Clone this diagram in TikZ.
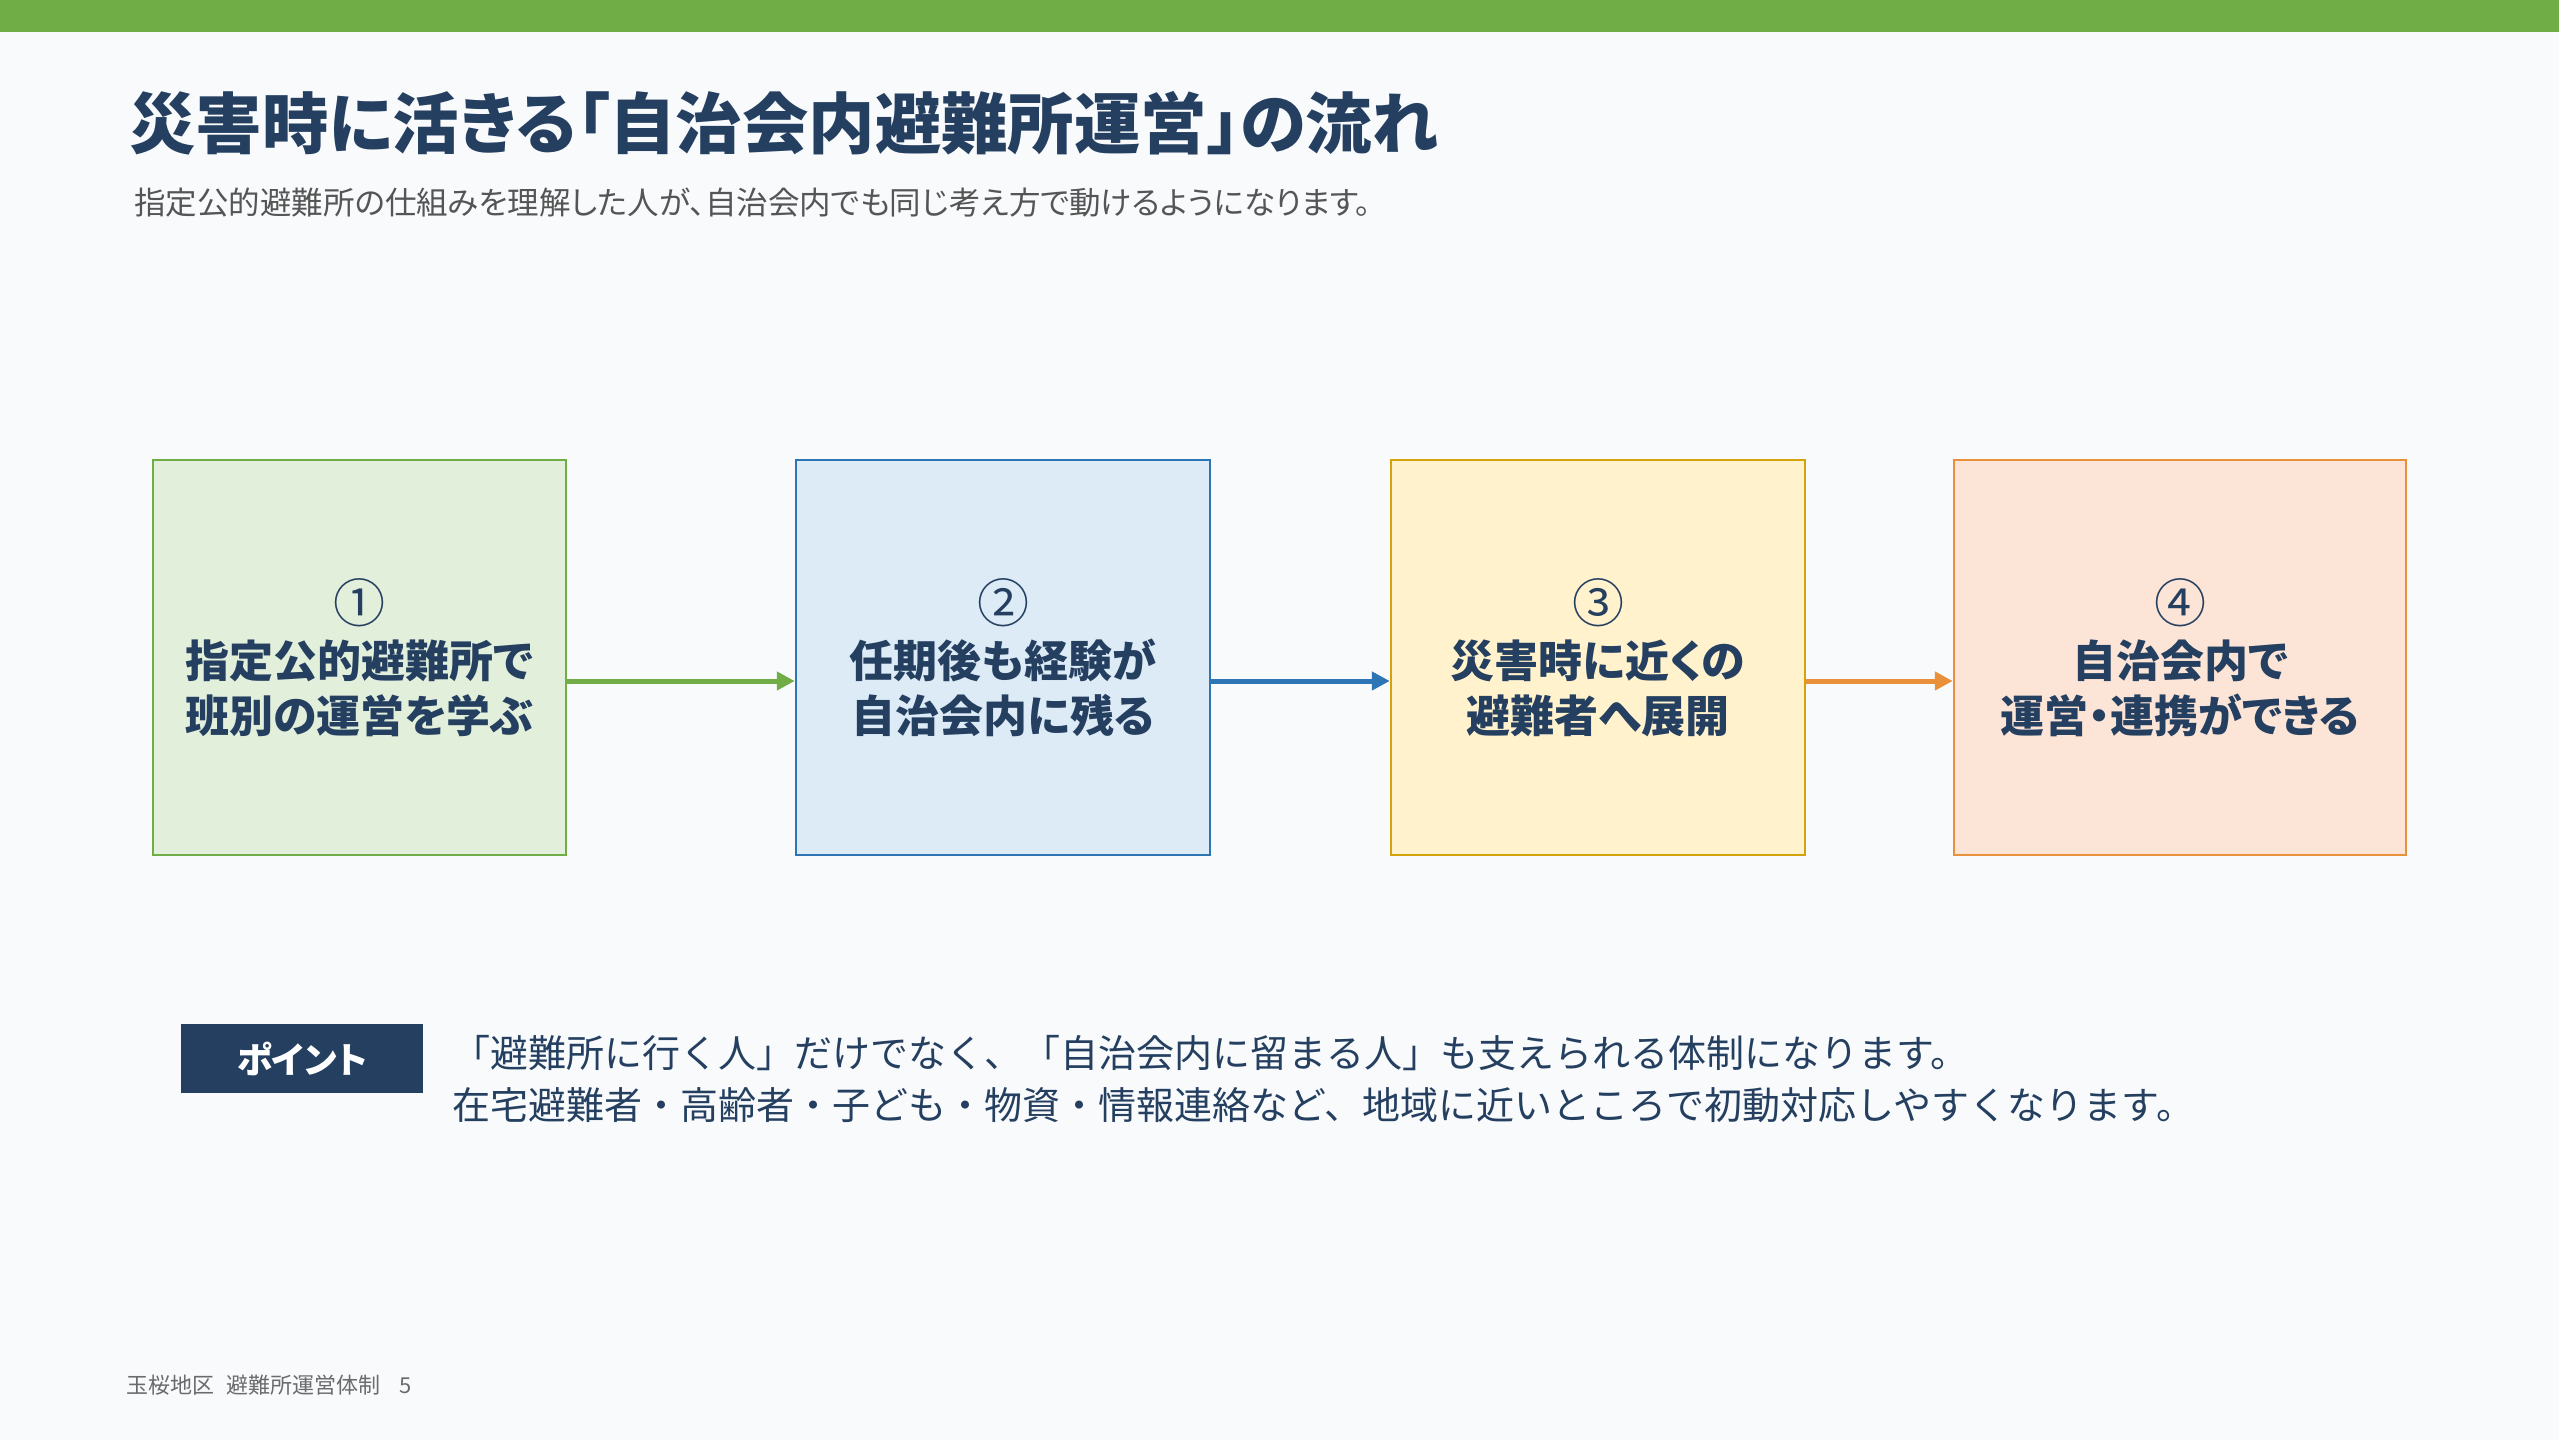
\documentclass[tikz,border=0pt]{standalone}
\usepackage{fontspec}
\setmainfont{Noto Sans CJK JP}
\newfontfamily\paltfont{Noto Sans CJK JP}[RawFeature={+palt}]
\usetikzlibrary{arrows.meta,positioning}
\definecolor{BgPaper}{HTML}{F8FAFC}
\definecolor{BarGreen}{HTML}{70AD47}
\definecolor{Navy}{HTML}{243F60}
\definecolor{SubGray}{HTML}{555555}
\definecolor{FootGray}{HTML}{6B6B6B}
\definecolor{GreenFill}{HTML}{E2EFDA}
\definecolor{GreenLine}{HTML}{70AD47}
\definecolor{BlueFill}{HTML}{DDEBF7}
\definecolor{BlueLine}{HTML}{2E75B6}
\definecolor{GoldFill}{HTML}{FFF2CC}
\definecolor{GoldLine}{HTML}{D4A20A}
\definecolor{PeachFill}{HTML}{FCE4D6}
\definecolor{PeachLine}{HTML}{E8903A}
\newcommand{\stepno}[1]{{\fontsize{52}{55}\selectfont\mdseries #1}}
\tikzset{
    stepbox/.style = {draw, rectangle, line width=2.5pt,
        minimum height=395pt,
        align=center, text=Navy, inner sep=0pt,
        font=\paltfont\fontsize{44}{55}\selectfont\bfseries},
    flow/.style = {line width=5pt, -{Triangle[length=18pt,width=18pt]}},
    txt/.style = {inner sep=0pt, anchor=west}
}
\begin{document}
\begin{tikzpicture}[x=1pt,y=-1pt]
            \useasboundingbox[fill=BgPaper] (0,0) rectangle (2559,1440);
            \fill[BarGreen] (0,0) rectangle (2559,32);
            % heading
            \node[txt,text=Navy,font=\paltfont\fontsize{66.4}{78}\selectfont\bfseries] (title) at (129,123) {災害時に活きる「自治会内避難所運営」の流れ};
            \node[txt,text=SubGray,font=\paltfont\fontsize{31.5}{38}\selectfont] (subtitle) at (134,203) {指定公的避難所の仕組みを理解した人が、自治会内でも同じ考え方で動けるようになります。};
            % four steps
            \node[stepbox,draw=GreenLine,fill=GreenFill,minimum width=413pt] (s1) at (359.5,657.5) {\stepno{①}\\指定公的避難所で\\班別の運営を学ぶ};
            \node[stepbox,draw=BlueLine,fill=BlueFill,minimum width=414pt] (s2) at (1003,657.5) {\stepno{②}\\任期後も経験が\\自治会内に残る};
            \node[stepbox,draw=GoldLine,fill=GoldFill,minimum width=414pt] (s3) at (1598,657.5) {\stepno{③}\\災害時に近くの\\避難者へ展開};
            \node[stepbox,draw=PeachLine,fill=PeachFill,minimum width=452pt] (s4) at (2180,657.5) {\stepno{④}\\自治会内で\\運営・連携ができる};
            \draw[flow,color=GreenLine] ([yshift=-23.5pt]s1.east) -- ([yshift=-23.5pt]s2.west);
            \draw[flow,color=BlueLine] ([yshift=-23.5pt]s2.east) -- ([yshift=-23.5pt]s3.west);
            \draw[flow,color=PeachLine] ([yshift=-23.5pt]s3.east) -- ([yshift=-23.5pt]s4.west);
            % point
            \node[fill=Navy,text=white,minimum width=242pt,minimum height=69pt,inner sep=0pt,font=\paltfont\fontsize{36}{43}\selectfont\bfseries] (point) at (302,1058.5) {ポイント};
            \node[txt,text=Navy,align=left,font=\fontsize{38}{52}\selectfont] (pointtext) at (452,1079) {「避難所に行く人」だけでなく、「自治会内に留まる人」も支えられる体制になります。\\在宅避難者・高齢者・子ども・物資・情報連絡など、地域に近いところで初動対応しやすくなります。};
            \node[txt,text=FootGray,font=\fontsize{22}{26}\selectfont] (footer) at (126,1385) {玉桜地区\hspace{12pt}避難所運営体制\hspace{19pt}5};
\end{tikzpicture}
\end{document}
